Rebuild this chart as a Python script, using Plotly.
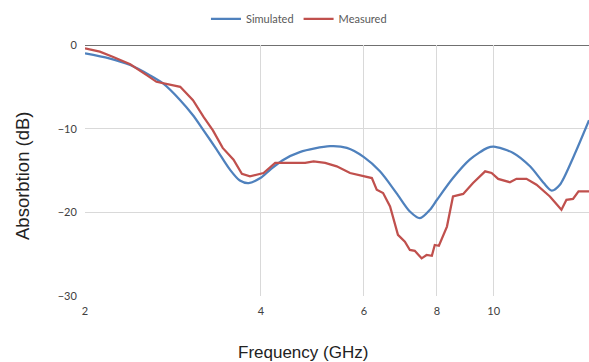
import plotly.graph_objects as go

sim_freq = [2.0, 2.2, 2.39, 2.58, 2.72, 2.91, 3.06, 3.19, 3.36, 3.54, 3.68, 3.81, 3.99, 4.15,
            4.35, 4.66, 5.25, 5.61, 6.0, 6.39, 6.82, 7.19, 7.48, 7.78, 8.0, 8.52, 9.1, 9.76,
            10.0, 10.8, 11.54, 12.18, 12.57, 12.98, 13.67, 14.56]
sim_db = [-1.0, -1.6, -2.4, -3.6, -4.6, -6.6, -8.4, -10.2, -12.5, -14.9, -16.2, -16.5, -15.9,
          -14.9, -13.8, -12.8, -12.1, -12.3, -13.4, -15.1, -17.7, -19.9, -20.7, -19.7, -18.5,
          -15.9, -13.7, -12.3, -12.15, -12.9, -14.5, -16.5, -17.4, -16.7, -13.5, -9.0]

meas_freq = [2.0, 2.12, 2.23, 2.39, 2.55, 2.65, 2.91, 3.06, 3.19, 3.31, 3.44, 3.59, 3.71, 3.83,
             4.04, 4.23, 4.66, 4.76, 4.92, 5.15, 5.39, 5.68, 6.19, 6.31, 6.47, 6.65, 6.86, 7.05,
             7.19, 7.33, 7.53, 7.68, 7.84, 7.93, 8.06, 8.32, 8.52, 8.87, 9.22, 9.67, 9.92, 10.18,
             10.66, 10.94, 11.38, 11.84, 12.48, 13.06, 13.32, 13.67, 13.97, 14.56]
meas_db = [-0.4, -0.8, -1.4, -2.3, -3.6, -4.4, -5.0, -6.6, -8.6, -10.2, -12.3, -13.7, -15.4,
           -15.7, -15.3, -14.1, -14.1, -14.1, -13.9, -14.1, -14.5, -15.3, -15.9, -17.3, -17.7,
           -19.3, -22.7, -23.5, -24.5, -24.6, -25.5, -25.1, -25.2, -23.9, -24.0, -21.7, -18.1,
           -17.8, -16.5, -15.1, -15.3, -16.0, -16.4, -16.0, -16.0, -16.7, -18.1, -19.7, -18.5,
           -18.4, -17.5, -17.5]

x_ticks = [2, 4, 6, 8, 10]
x_ticktext = ["2", "4", "6", "8", "10"]
y_ticks = [0, -10, -20, -30]

BLUE = "#4F81BD"
RED = "#C0504D"
GRID = "#D9D9D9"
TXT = "#595959"

fig = go.Figure()
fig.add_trace(go.Scatter(x=sim_freq, y=sim_db, mode="lines", name="Simulated",
                         line=dict(color=BLUE, width=2.25, shape="spline", smoothing=0.8)))
fig.add_trace(go.Scatter(x=meas_freq, y=meas_db, mode="lines", name="Measured",
                         line=dict(color=RED, width=2.25)))

fig.add_shape(type="line", xref="paper", yref="y", x0=0, x1=1, y0=0, y1=0,
              line=dict(color="#404040", width=1.5), layer="below")

fig.update_layout(
    width=589, height=362,
    margin=dict(l=85, r=0, t=45, b=66),
    paper_bgcolor="white", plot_bgcolor="white",
    font=dict(family="Lato, 'Open Sans', sans-serif", size=11, color=TXT),
    showlegend=True,
    legend=dict(orientation="h", x=0.24, xanchor="left", y=1.104, yanchor="middle",
                font=dict(size=11, color=TXT), itemwidth=30, bgcolor="rgba(0,0,0,0)"),
    xaxis=dict(type="log", range=[0.30103, 1.1631], tickvals=x_ticks, ticktext=x_ticktext,
               showgrid=True, gridcolor=GRID, gridwidth=1, zeroline=False, showline=False,
               ticks="outside", ticklen=5, tickcolor="rgba(0,0,0,0)",
               tickfont=dict(size=11, color="#404040")),
    yaxis=dict(range=[-30, 0], tickvals=y_ticks, showgrid=True, gridcolor=GRID, gridwidth=1,
               zeroline=False, showline=False, ticks="outside", ticklen=5,
               tickcolor="rgba(0,0,0,0)", tickfont=dict(size=11, color="#404040")),
    annotations=[
        dict(text="Frequency (GHz)", xref="paper", yref="paper",
             x=(303 - 85) / 504, y=-(352 - 296) / 251, xanchor="center", yanchor="middle",
             showarrow=False, font=dict(family="Liberation Sans, Arial", size=17, color="#222222")),
        dict(text="Absorbtion (dB)", xref="paper", yref="paper", textangle=-90,
             x=-(85 - 22) / 504, y=(296 - 176) / 251, xanchor="center", yanchor="middle",
             showarrow=False, font=dict(family="Liberation Sans, Arial", size=18.5, color="#222222")),
    ],
)

fig.write_html("out.html")
